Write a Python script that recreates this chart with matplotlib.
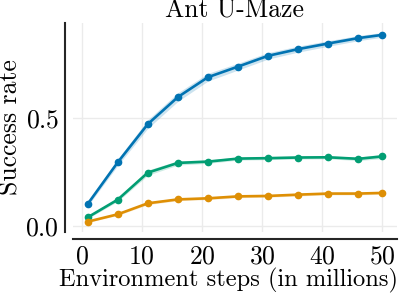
import numpy as np
import matplotlib
matplotlib.use('Agg')
import matplotlib.pyplot as plt

plt.rcParams['font.family'] = 'serif'
plt.rcParams['font.serif'] = ['cmr10', 'DejaVu Serif']
plt.rcParams['mathtext.fontset'] = 'cm'
plt.rcParams['axes.formatter.use_mathtext'] = True

# steps in millions
steps = [1, 6, 11, 16, 21, 26, 31, 36, 41, 46, 50]

# success rates per method
blue_mean = [0.104, 0.297, 0.474, 0.599, 0.691, 0.740, 0.790, 0.821, 0.847, 0.872, 0.887]
blue_err = [0.010, 0.015, 0.020, 0.020, 0.018, 0.016, 0.015, 0.014, 0.013, 0.012, 0.011]
green_mean = [0.042, 0.124, 0.249, 0.294, 0.300, 0.314, 0.316, 0.319, 0.320, 0.313, 0.324]
green_err = [0.006, 0.008, 0.012, 0.010, 0.008, 0.007, 0.007, 0.007, 0.007, 0.008, 0.010]
orange_mean = [0.022, 0.056, 0.107, 0.125, 0.130, 0.139, 0.141, 0.147, 0.152, 0.152, 0.155]
orange_err = [0.004, 0.005, 0.006, 0.006, 0.006, 0.006, 0.006, 0.006, 0.006, 0.006, 0.006]

fig, ax = plt.subplots(figsize=(3.99, 2.97), dpi=100)
fig.subplots_adjust(left=73/399, right=397/399, top=1-23/297, bottom=1-232/297)

series = [
    (blue_mean, blue_err, '#0173b2'),
    (green_mean, green_err, '#029e73'),
    (orange_mean, orange_err, '#de8f05'),
]
for mean, err, c in series:
    m = np.array(mean)
    e = np.array(err)
    ax.fill_between(steps, m - e, m + e, color=c, alpha=0.2, linewidth=0)
    ax.plot(steps, m, color=c, lw=1.9, marker='o', ms=4.5)

ax.set_yticks([0.0, 0.5])
ax.set_xticks([0, 10, 20, 30, 40, 50])
ax.grid(True, color='#ebebeb', lw=1)
ax.set_axisbelow(True)
ax.tick_params(length=0, labelsize=18.5, pad=4)

for s in ['top', 'right']:
    ax.spines[s].set_visible(False)
ax.spines['left'].set_position(('outward', 6))
ax.spines['bottom'].set_position(('outward', 5))
for s in ['left', 'bottom']:
    ax.spines[s].set_color('#262626')
    ax.spines[s].set_linewidth(1.5)

ax.set_title('Ant U-Maze', fontsize=18.5, pad=2)
ax.set_xlabel('Environment steps (in millions)', fontsize=17.6, labelpad=0)
# label sits left of the axes centre in the original
ax.xaxis.label.set_x((228.5 - 73) / 324)
ax.set_ylabel('Success rate', fontsize=18.5, labelpad=2)

fig.savefig('out.png', dpi=100)
